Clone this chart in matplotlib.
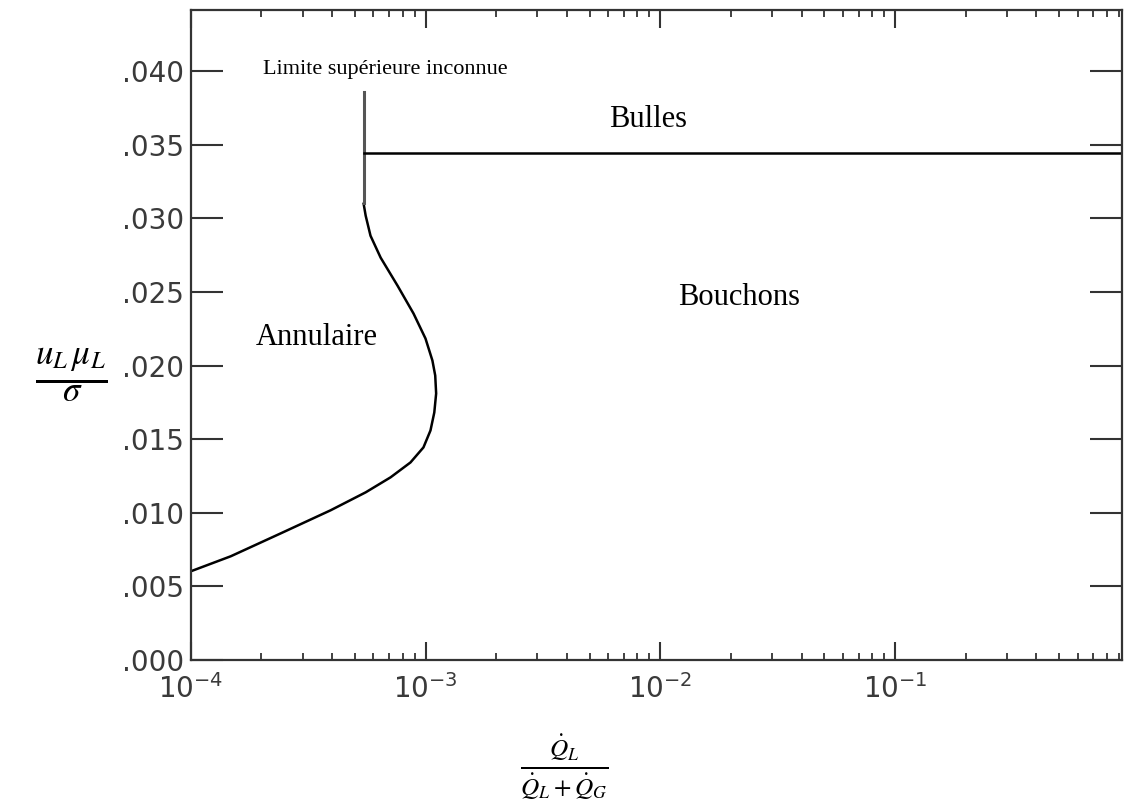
import numpy as np
import matplotlib.pyplot as plt
from matplotlib.ticker import FixedLocator, FuncFormatter, LogLocator, NullFormatter

# frontiere annulaire / bouchons
courbe_x = [1.00e-4, 1.48e-4, 2.42e-4, 3.94e-4, 5.56e-4, 7.10e-4, 8.63e-4, 9.80e-4,
            1.05e-3, 1.09e-3, 1.11e-3, 1.10e-3, 1.07e-3, 1.00e-3, 8.89e-4, 7.60e-4,
            6.44e-4, 5.83e-4, 5.56e-4, 5.45e-4]
courbe_y = [0.00603, 0.00705, 0.00861, 0.01017, 0.01139, 0.01241, 0.01342, 0.01444,
            0.01559, 0.01681, 0.01810, 0.01932, 0.02034, 0.02183, 0.02353, 0.02542,
            0.02732, 0.02881, 0.03017, 0.03098]

# limite superieure inconnue (trait vertical)
vert_x = [5.45e-4, 5.45e-4]
vert_y = [0.0310, 0.0386]

# frontiere bulles / bouchons
horiz_x = [5.45e-4, 0.93]
horiz_y = [0.0344, 0.0344]

yticks = [0.000, 0.005, 0.010, 0.015, 0.020, 0.025, 0.030, 0.035, 0.040]
xmajor = [1e-4, 1e-3, 1e-2, 1e-1]
xlabels = [r'$\mathregular{10^{-4}}$', r'$\mathregular{10^{-3}}$',
           r'$\mathregular{10^{-2}}$', r'$\mathregular{10^{-1}}$']

regions = ['Limite supérieure inconnue', 'Bulles', 'Bouchons', 'Annulaire']
regions_pos = [(2.03e-4, 0.0401), (8.9e-3, 0.0367), (2.17e-2, 0.0246), (3.44e-4, 0.0219)]
regions_taille = [16, 22, 22, 22]

plt.rcParams['mathtext.fontset'] = 'stix'
gris = '#333333'

fig = plt.figure(figsize=(11.29, 8.07), dpi=100)
ax = fig.add_axes([0.169, 0.182, 0.825, 0.805])

ax.plot(courbe_x, courbe_y, color='black', lw=1.8, solid_joinstyle='round')
ax.plot(vert_x, vert_y, color='#555555', lw=2.2)
ax.plot(horiz_x, horiz_y, color='black', lw=1.8)

ax.set_xscale('log')
ax.set_xlim(1e-4, 0.93)
ax.set_ylim(0, 0.0441)

for s in ax.spines.values():
    s.set_color(gris)
    s.set_linewidth(1.6)

ax.xaxis.set_major_locator(FixedLocator(xmajor))
ax.set_xticklabels(xlabels)
ax.xaxis.set_minor_locator(LogLocator(base=10, subs=np.arange(2, 10)))
ax.xaxis.set_minor_formatter(NullFormatter())
ax.set_yticks(yticks)
ax.yaxis.set_major_formatter(FuncFormatter(lambda v, p: ('%.3f' % v)[1:]))

ax.tick_params(axis='y', which='major', direction='in', length=23, width=1.5,
               right=True, color=gris, labelsize=20, labelcolor='#3a3a3a', pad=5)
ax.tick_params(axis='x', which='major', direction='in', length=13, width=1.5,
               top=True, color=gris, labelsize=20, labelcolor='#3a3a3a', pad=10)
ax.tick_params(axis='x', which='minor', direction='in', length=5, width=1.3,
               top=True, color=gris)
for lab in ax.get_xticklabels():
    lab.set_family('DejaVu Sans')

for txt, (px, py), taille in zip(regions, regions_pos, regions_taille):
    ax.text(px, py, txt, family='Liberation Serif', fontsize=taille,
            ha='left' if txt == 'Limite supérieure inconnue' else 'center',
            va='center', color='black')

fig.text(0.063, 0.535, r'$\frac{u_L\,\mu_L}{\sigma}$', fontsize=36, ha='center', va='center')
fig.text(0.50, 0.05, r'$\frac{\dot{Q}_L}{\dot{Q}_L+\dot{Q}_G}$', fontsize=26,
         ha='center', va='center')

fig.savefig('out.png', dpi=100)
